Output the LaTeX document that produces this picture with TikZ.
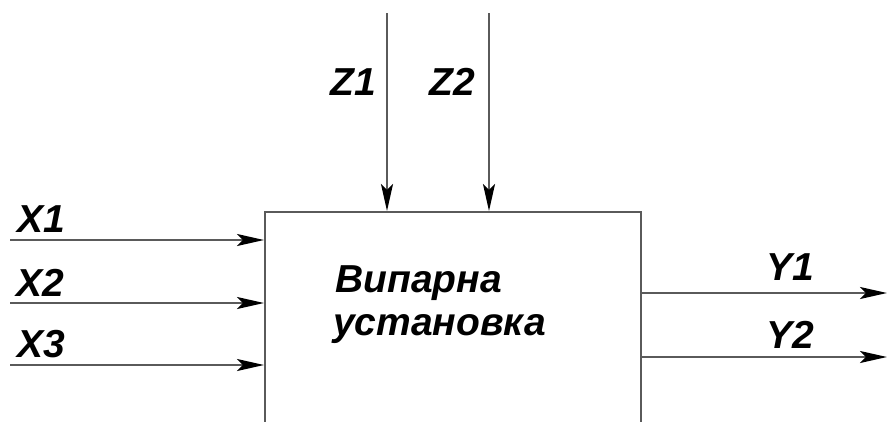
\documentclass[tikz,border=0pt]{standalone}
\usepackage{fontspec}
\setmainfont{Liberation Sans}
\usetikzlibrary{arrows.meta}
\definecolor{linegray}{RGB}{90,90,90}
\begin{document}
\begin{tikzpicture}[x=1pt,y=-1pt,
  conn/.style={draw=linegray,line width=2.4pt,-{Stealth[length=27pt,width=12pt,inset=6pt,black]}},
  lbl/.style={inner sep=0pt,anchor=base west,font=\fontsize{39}{42}\selectfont\bfseries\itshape},
  boxst/.style={draw=linegray,line width=2.4pt,rectangle,inner sep=0pt,anchor=north west,minimum width=376pt,minimum height=240pt}]
\useasboundingbox (0,0) rectangle (887,421);
\clip (0,0) rectangle (887,421);
\node[boxst] (box) at (264,211) {};
\node[lbl] (txt1) at (335,292) {Випарна};
\node[lbl] (txt2) at (333,335) {установка};
% inputs
\coordinate (x1s) at (10,240);
\coordinate (x2s) at (10,303);
\coordinate (x3s) at (10,365);
\draw[conn] (x1s) -- (x1s -| box.west);
\draw[conn] (x2s) -- (x2s -| box.west);
\draw[conn] (x3s) -- (x3s -| box.west);
\node[lbl] (lx1) at (17,232) {X1};
\node[lbl] (lx2) at (16,296) {X2};
\node[lbl] (lx3) at (17,357) {X3};
% controls
\coordinate (z1s) at (387,13);
\coordinate (z2s) at (489,13);
\draw[conn] (z1s) -- (z1s |- box.north);
\draw[conn] (z2s) -- (z2s |- box.north);
\node[lbl] (lz1) at (330,95) {Z1};
\node[lbl] (lz2) at (429,95) {Z2};
% outputs
\coordinate (y1e) at (887,293);
\coordinate (y2e) at (887,357);
\draw[conn] (y1e -| box.east) -- (y1e);
\draw[conn] (y2e -| box.east) -- (y2e);
\node[lbl] (ly1) at (766,280) {Y1};
\node[lbl] (ly2) at (766,348) {Y2};
\end{tikzpicture}
\end{document}
